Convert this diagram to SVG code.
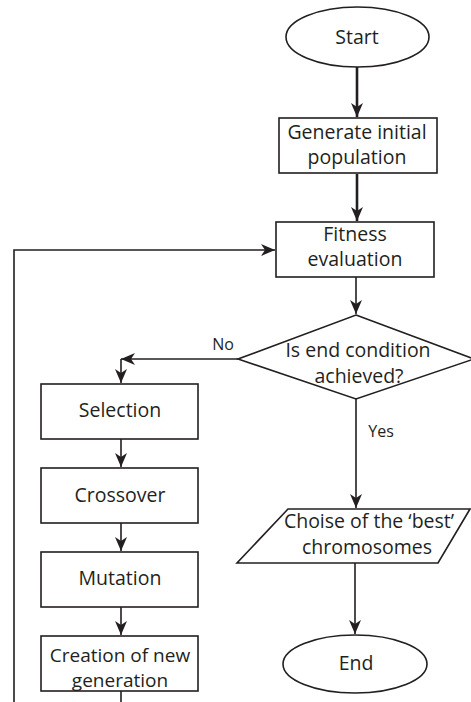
<svg xmlns="http://www.w3.org/2000/svg" width="471" height="702" viewBox="0 0 471 702">
  <style>
    .shape { fill: #ffffff; stroke: #231f20; stroke-width: 1.6; }
    .line { fill: none; stroke: #231f20; stroke-width: 1.6; }
    .thick { fill: none; stroke: #231f20; stroke-width: 2.6; }
    .label { font-family: "Open Sans", "Liberation Sans", sans-serif; font-size: 19.5px; fill: #231f20; text-anchor: middle; }
    .small { font-family: "Open Sans", "Liberation Sans", sans-serif; font-size: 16px; fill: #231f20; text-anchor: middle; }
  </style>
  <defs>
    <marker id="arrow" markerUnits="userSpaceOnUse" markerWidth="16" markerHeight="14" viewBox="-15 -7 16 14" refX="0" refY="0" orient="auto">
      <path d="M0,0 L-14,-6 L-10,0 L-14,6 Z" fill="#231f20"/>
    </marker>
  </defs>

  <rect width="471" height="702" fill="#ffffff"/>

  <!-- connectors -->
  <g id="connectors">
    <path class="thick" d="M357,67 V117" marker-end="url(#arrow)"/>
    <path class="thick" d="M357,174 V221" marker-end="url(#arrow)"/>
    <path class="line" d="M356,277 V314" marker-end="url(#arrow)"/>
    <path class="line" d="M238,359 H121" marker-end="url(#arrow)"/>
    <path class="line" d="M121,359 V383" marker-end="url(#arrow)"/>
    <path class="line" d="M121,439 V467" marker-end="url(#arrow)"/>
    <path class="line" d="M121,523 V551" marker-end="url(#arrow)"/>
    <path class="line" d="M121,607 V635" marker-end="url(#arrow)"/>
    <path class="line" d="M121,691 V702"/>
    <path class="line" d="M14,702 V250 H275" marker-end="url(#arrow)"/>
    <path class="line" d="M356,399 V508" marker-end="url(#arrow)"/>
    <path class="line" d="M355,563 V634" marker-end="url(#arrow)"/>
    <text class="small" x="223" y="350">No</text>
    <text class="small" x="381" y="437">Yes</text>
  </g>

  <g id="start">
    <ellipse class="shape" cx="357.5" cy="37" rx="71.5" ry="30"/>
    <text class="label" x="357" y="44">Start</text>
  </g>

  <g id="generate">
    <rect class="shape" x="279" y="118" width="158" height="55"/>
    <text class="label" x="357" y="139">Generate initial</text>
    <text class="label" x="357" y="164">population</text>
  </g>

  <g id="fitness">
    <rect class="shape" x="276" y="222" width="158" height="55"/>
    <text class="label" x="355" y="241">Fitness</text>
    <text class="label" x="355" y="266">evaluation</text>
  </g>

  <g id="condition">
    <polygon class="shape" points="356,315 474,359 356,399 238,359"/>
    <text class="label" x="358" y="357">Is end condition</text>
    <text class="label" x="359" y="383">achieved?</text>
  </g>

  <g id="selection">
    <rect class="shape" x="41" y="384" width="157" height="55"/>
    <text class="label" x="120" y="417">Selection</text>
  </g>

  <g id="crossover">
    <rect class="shape" x="41" y="468" width="157" height="55"/>
    <text class="label" x="120" y="502">Crossover</text>
  </g>

  <g id="mutation">
    <rect class="shape" x="41" y="552" width="157" height="55"/>
    <text class="label" x="120" y="585">Mutation</text>
  </g>

  <g id="creation">
    <rect class="shape" x="41" y="636" width="157" height="55"/>
    <text class="label" x="120" y="661.5" style="font-size:19px">Creation of new</text>
    <text class="label" x="120" y="686.5" style="font-size:19px">generation</text>
  </g>

  <g id="best">
    <polygon class="shape" points="288,509 470,509 438,563 237,563"/>
    <text class="label" x="369" y="528">Choise of the ‘best’</text>
    <text class="label" x="367" y="554">chromosomes</text>
  </g>

  <g id="end">
    <ellipse class="shape" cx="355" cy="664" rx="72" ry="29"/>
    <text class="label" x="356" y="670">End</text>
  </g>
</svg>
